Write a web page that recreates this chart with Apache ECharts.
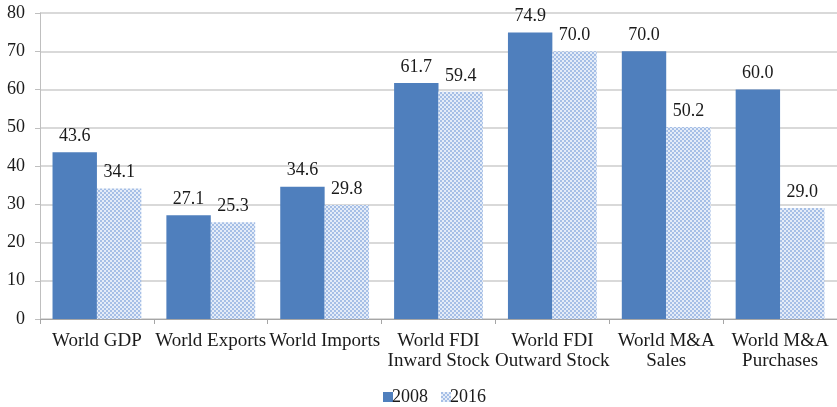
<!DOCTYPE html>
<html>
<head>
<meta charset="utf-8">
<script src="https://cdn.jsdelivr.net/npm/echarts@6/dist/echarts.min.js"></script>
<style>
  html, body { margin: 0; padding: 0; background: #fff; }
  #chart { width: 837px; height: 407px; }
</style>
</head>
<body>
<div id="chart"></div>
<script>
const categories = [
  'World GDP', 'World Exports', 'World Imports',
  'World FDI\nInward Stock', 'World FDI\nOutward Stock',
  'World M&A\nSales', 'World M&A\nPurchases'
];
const values2008 = [43.6, 27.1, 34.6, 61.7, 74.9, 70.0, 60.0];
const values2016 = [34.1, 25.3, 29.8, 59.4, 70.0, 50.2, 29.0];
const seriesNames = ['2008', '2016'];
const yTicks = [0, 10, 20, 30, 40, 50, 60, 70, 80];

// small checkered tile used as the fill of the 2016 bars
function checkerTile() {
  const c = document.createElement('canvas');
  c.width = 4; c.height = 4;
  const ctx = c.getContext('2d');
  ctx.fillStyle = '#e4ecf8';
  ctx.fillRect(0, 0, 4, 4);
  ctx.fillStyle = '#a6bfe6';
  ctx.fillRect(0, 0, 2, 2);
  ctx.fillRect(2, 2, 2, 2);
  return c;
}
const checkerFill = { image: checkerTile(), repeat: 'repeat' };

const FONT = 'Liberation Serif';
const TEXT = '#1a1a1a';
const chart = echarts.init(document.getElementById('chart'), null, { renderer: 'canvas' });

const labelStyle = {
  show: true,
  position: 'top',
  distance: 7,
  color: TEXT,
  fontFamily: FONT,
  fontSize: 18,
  formatter: p => p.value.toFixed(1)
};

chart.setOption({
  animation: false,
  grid: { left: 40, right: 0, top: 13, bottom: 88 },
  legend: {
    top: 388,
    left: 383,
    padding: 0,
    itemWidth: 10,
    itemHeight: 10,
    itemGap: 13,
    textStyle: { fontFamily: FONT, fontSize: 18, color: TEXT, padding: [0, 0, 0, -6] },
    data: [
      { name: seriesNames[0], icon: 'rect' },
      { name: seriesNames[1], icon: 'rect' }
    ]
  },
  xAxis: {
    type: 'category',
    data: categories,
    axisLine: { lineStyle: { color: '#a6a6a6', width: 1 } },
    axisTick: { show: true, length: 5, lineStyle: { color: '#a6a6a6' } },
    axisLabel: {
      interval: 0,
      margin: 12,
      color: TEXT,
      fontFamily: FONT,
      fontSize: 19,
      lineHeight: 20
    }
  },
  yAxis: {
    type: 'value',
    min: yTicks[0],
    max: yTicks[yTicks.length - 1],
    interval: 10,
    axisLine: { show: true, lineStyle: { color: '#bfbfbf', width: 1 } },
    axisTick: { show: true, length: 5, lineStyle: { color: '#bfbfbf' } },
    splitLine: { lineStyle: { color: '#cccccc', width: 1.5 } },
    axisLabel: {
      margin: 15,
      color: TEXT,
      fontFamily: FONT,
      fontSize: 18
    }
  },
  series: [
    {
      name: seriesNames[0],
      type: 'bar',
      data: values2008,
      barGap: '0%',
      barCategoryGap: '22%',
      itemStyle: { color: '#4f7fbd' },
      label: labelStyle
    },
    {
      name: seriesNames[1],
      type: 'bar',
      data: values2016,
      barGap: '0%',
      barCategoryGap: '22%',
      itemStyle: { color: checkerFill },
      label: labelStyle
    }
  ]
});
</script>
</body>
</html>
